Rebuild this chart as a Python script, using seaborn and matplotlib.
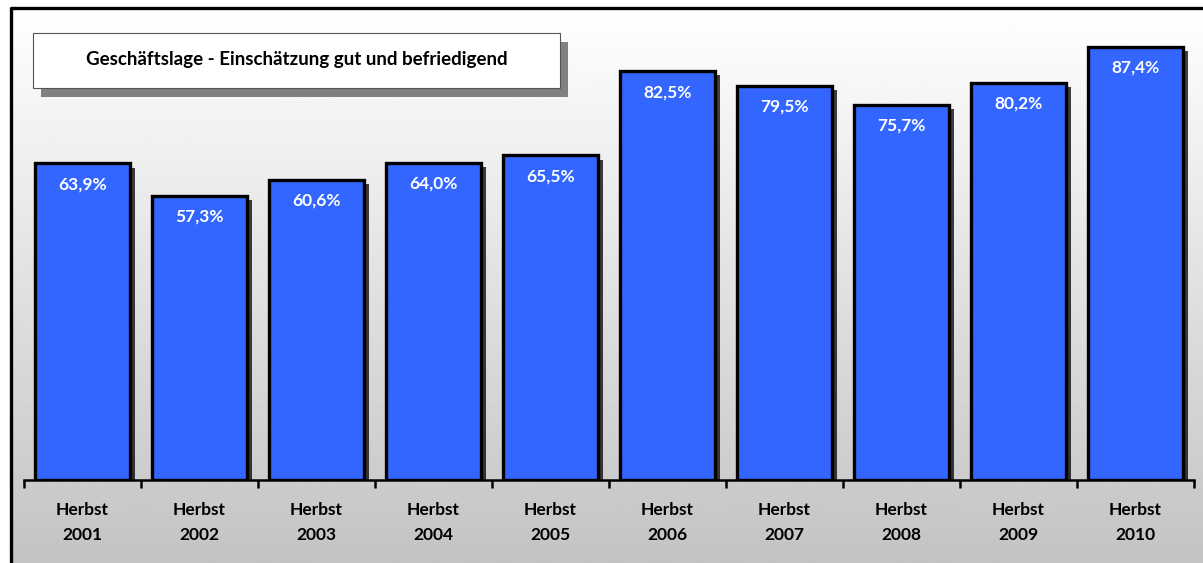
import numpy as np
import pandas as pd
import matplotlib
matplotlib.use("Agg")
import matplotlib.pyplot as plt
import matplotlib.patheffects as pe
from matplotlib.patches import Rectangle
from matplotlib.lines import Line2D
import seaborn as sns

# data
years = ["2001", "2002", "2003", "2004", "2005", "2006", "2007", "2008", "2009", "2010"]
values = [63.9, 57.3, 60.6, 64.0, 65.5, 82.5, 79.5, 75.7, 80.2, 87.4]
title = "Geschäftslage - Einschätzung gut und befriedigend"

df = pd.DataFrame({"label": ["Herbst\n" + y for y in years], "value": values})

sns.set_theme(style="white")
plt.rcParams["font.family"] = ["Lato", "DejaVu Sans"]

W, H = 1203, 563
fig = plt.figure(figsize=(W / 100, H / 100), dpi=100)


def px(x, y):
    # pixel (top-left origin) -> figure fraction
    return x / W, 1 - y / H


# gradient background
bg = fig.add_axes([0, 0, 1, 1], zorder=-2)
grad = np.linspace(1.0, 0.765, 300).reshape(-1, 1)
bg.imshow(grad, cmap="gray", vmin=0, vmax=1, aspect="auto",
          extent=[10 / W, 1, 0, 1 - 8 / H])
bg.set_xlim(0, 1)
bg.set_ylim(0, 1)
bg.axis("off")

# main axes
x0, y0 = px(24, 480)
x1, y1 = px(1194, 8)
ax = fig.add_axes([x0, y0, x1 - x0, y1 - y0])
ax.patch.set_alpha(0)

sns.barplot(data=df, x="label", y="value", color="#3366FF", saturation=1,
            width=0.82, edgecolor="black", linewidth=2.4, ax=ax)
for bar in ax.patches:
    bar.set_path_effects([pe.SimplePatchShadow(offset=(3.5, -3), shadow_rgbFace="black", alpha=0.75),
                          pe.Normal()])

for i, v in enumerate(values):
    ax.annotate(f"{v:.1f}".replace(".", ",") + "%", (i, v), xytext=(0, -15),
                textcoords="offset points", ha="center", va="center",
                color="white", fontsize=12.5, fontweight="bold")

ax.set_xlim(-0.5, len(years) - 0.5)
ax.set_ylim(0, 472 / 4.955)
ax.set_xlabel("")
ax.set_ylabel("")
ax.set_yticks([])
for s in ["top", "right", "left"]:
    ax.spines[s].set_visible(False)
ax.spines["bottom"].set_linewidth(1.8)
ax.spines["bottom"].set_color("black")
ax.set_xticks(np.arange(-0.5, len(years), 1.0), minor=True)
ax.tick_params(axis="x", which="minor", length=6, width=1.8, color="black", direction="out", bottom=True)
ax.tick_params(axis="x", which="major", length=0, pad=16)
for t in ax.get_xticklabels():
    t.set_fontsize(12.5)
    t.set_fontweight("bold")
    t.set_color("black")
    t.set_linespacing(1.65)

# frame
fig.add_artist(Line2D([10.5 / W, 10.5 / W, 1], [0, 1 - 7.5 / H, 1 - 7.5 / H],
                      transform=fig.transFigure, color="black", linewidth=2.4))

# title box with shadow
bx, by = px(33, 88)
bw, bh = (560 - 33) / W, (88 - 33) / H
fig.add_artist(Rectangle((bx + 8 / W, by - 9 / H), bw, bh, transform=fig.transFigure,
                         facecolor="#808080", edgecolor="none"))
fig.add_artist(Rectangle((bx, by), bw, bh, transform=fig.transFigure,
                         facecolor="white", edgecolor="#555555", linewidth=0.8))
tx, ty = px(297, 60)
fig.text(tx, ty, title, ha="center", va="center", fontsize=13.5, fontweight="bold", color="black")

fig.savefig("out.png", dpi=100)
